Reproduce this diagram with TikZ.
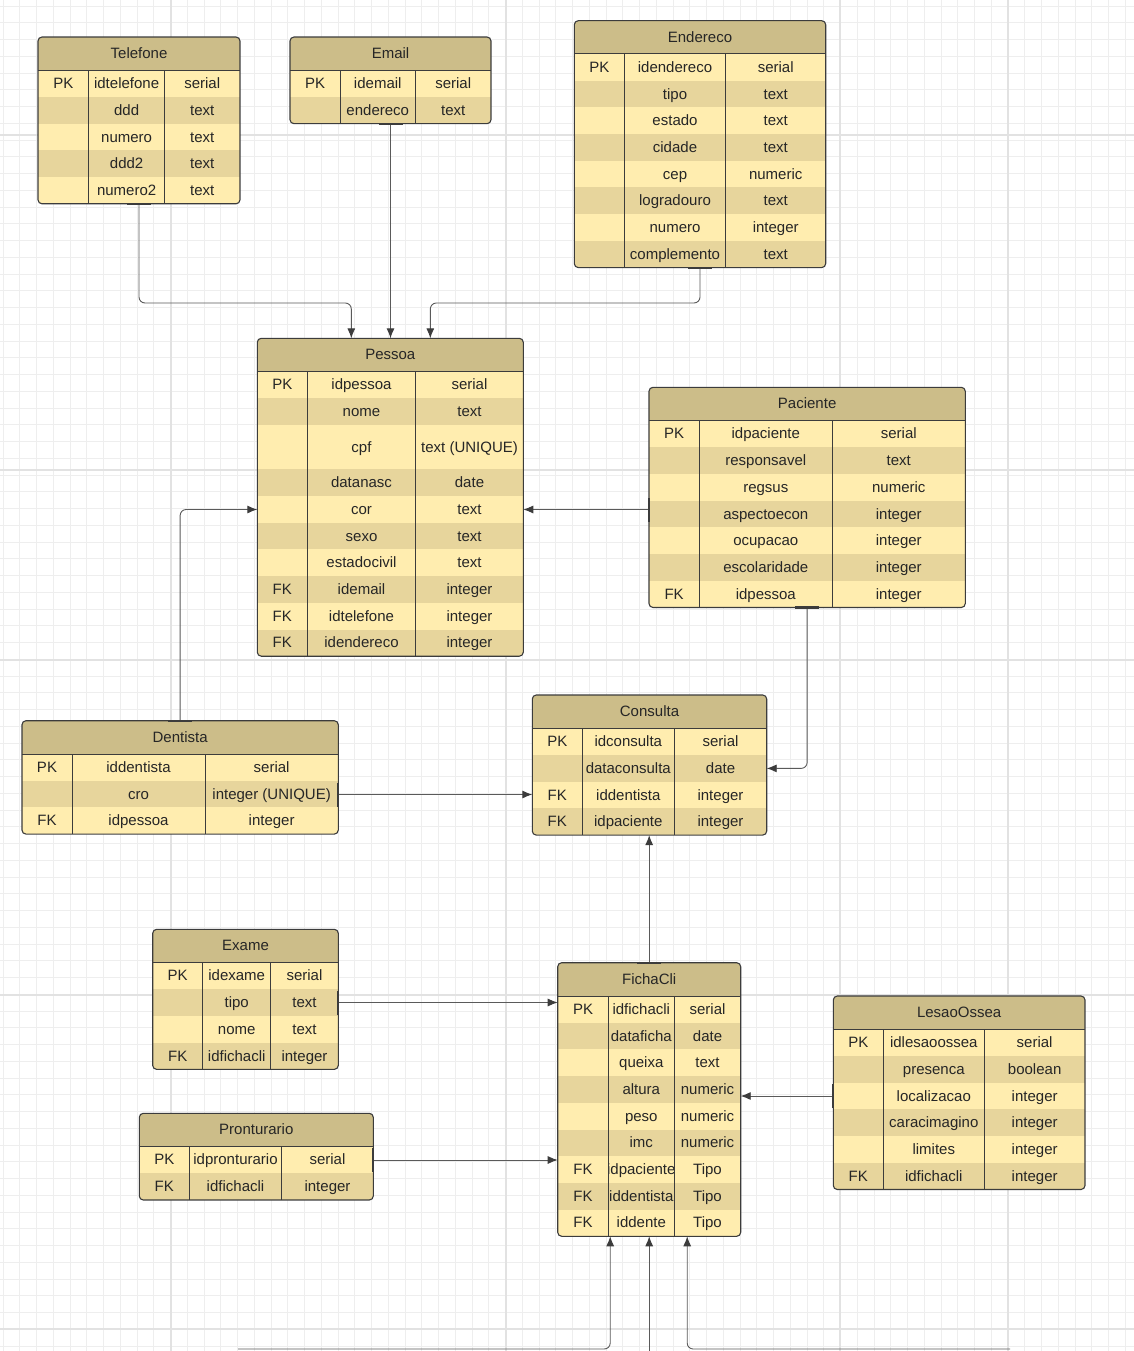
\documentclass[tikz,border=0pt]{standalone}
\usepackage{fontspec}
\setmainfont{Liberation Sans}
\usetikzlibrary{arrows.meta}
\definecolor{titlefill}{HTML}{CCBD89}
\definecolor{lightrow}{HTML}{FFEDAF}
\definecolor{darkrow}{HTML}{E7D59C}
\definecolor{edgecol}{HTML}{3C3C3C}
\definecolor{txtcol}{HTML}{262626}
\definecolor{wirecol}{HTML}{5A5A5A}
\definecolor{gridminor}{HTML}{EEEEEE}
\definecolor{gridmajor}{HTML}{E2E2E2}
\tikzset{
  cell/.style={font=\fontsize{15}{18}\selectfont, text=txtcol, inner sep=0pt, anchor=base},
  tabedge/.style={draw=edgecol, line width=1.1pt, rounded corners=4pt, fill=none},
  divline/.style={draw=edgecol, line width=1pt},
  wire/.style={draw=wirecol, line width=0.9pt, rounded corners=6pt, -{Latex[length=10pt,width=8pt,color=edgecol]}},
  tickmark/.style={draw=edgecol, line width=2.2pt},
  gminor/.style={draw=gridminor, line width=0.8pt},
  gmajor/.style={draw=gridmajor, line width=1.3pt},
}
% #1 name, #2 x0, #3 y0, #4 x1, #5 col1, #6 col2, #7 title, #8 rows key/name/type/height
\newcommand\erdtab[8]{%
  \xdef\toty{\fpeval{#3+33.3}}%
  \foreach \fk/\fn/\ft/\fh in {#8}{\xdef\toty{\fpeval{\toty+\fh}}}%
  \begin{scope}
    \clip[rounded corners=4pt] (#2,#3) rectangle (#4,\toty);
    \fill[titlefill] (#2,#3) rectangle (#4,{#3+33.3});
    \xdef\cury{\fpeval{#3+33.3}}%
    \foreach \fk/\fn/\ft/\fh [count=\i] in {#8}{%
      \xdef\nexty{\fpeval{\cury+\fh}}%
      \ifodd\i\relax
        \fill[lightrow] (#2,\cury) rectangle (#4,\nexty);
      \else
        \fill[darkrow] (#2,\cury) rectangle (#4,\nexty);
      \fi
      \xdef\cury{\nexty}%
    }
  \end{scope}
  \xdef\cury{\fpeval{#3+33.3}}%
  \foreach \fk/\fn/\ft/\fh [count=\i] in {#8}{%
    \xdef\nexty{\fpeval{\cury+\fh}}%
    \ifx\fk\empty\else
      \node[cell] (#1-k\i) at ({(#2+#5)/2},{(\cury+\nexty)/2+5}) {\fk};
    \fi
    \node[cell] (#1-n\i) at ({(#5+#6)/2},{(\cury+\nexty)/2+5}) {\fn};
    \node[cell] (#1-t\i) at ({(#6+#4)/2},{(\cury+\nexty)/2+5}) {\ft};
    \xdef\cury{\nexty}%
  }
  \draw[divline] (#2,{#3+33.3}) -- (#4,{#3+33.3});
  \draw[divline] (#5,{#3+33.3}) -- (#5,\toty);
  \draw[divline] (#6,{#3+33.3}) -- (#6,\toty);
  \node[tabedge, anchor=north west, minimum width={(#4-#2)*1pt}, minimum height={(\toty-#3)*1pt}, inner sep=0pt, outer sep=0pt] (#1) at (#2,#3) {};
  \node[cell] (#1-title) at ({(#2+#4)/2},{#3+16.65+5}) {#7};
}
\begin{document}
\begin{tikzpicture}[x=1pt,y=-1pt]
\useasboundingbox (0,0) rectangle (1134,1351);
\fill[white] (0,0) rectangle (1134,1351);
% grid
\foreach \i in {0,...,67} \draw[gminor] ({3.05+\i*16.75},0) -- ({3.05+\i*16.75},1351);
\foreach \j in {0,...,80} \draw[gminor] (0,{6.05+\j*16.75}) -- (1134,{6.05+\j*16.75});
\foreach \yy in {135,470,660,995,1329} \draw[gmajor] (0,\yy) -- (1134,\yy);
\foreach \xx in {171,506,840,1008} \draw[gmajor] (\xx,0) -- (\xx,1351);

% tables
\erdtab{tel}{38}{37}{240}{88.7}{164.5}{Telefone}{PK/idtelefone/serial/26.7, /ddd/text/26.7, /numero/text/26.7, /ddd2/text/26.7, /numero2/text/26.7}
\erdtab{eml}{290}{37}{491}{340}{415.5}{Email}{PK/idemail/serial/26.7, /endereco/text/26.7}
\erdtab{end}{574.3}{20.7}{825.7}{624.3}{725.7}{Endereco}{PK/idendereco/serial/26.7, /tipo/text/26.7, /estado/text/26.7, /cidade/text/26.7, /cep/numeric/26.7, /logradouro/text/26.7, /numero/integer/26.7, /complemento/text/26.7}
\erdtab{pes}{257.3}{338.3}{523.3}{307.3}{415.7}{Pessoa}{PK/idpessoa/serial/26.7, /nome/text/26.7, /cpf/text (UNIQUE)/44.3, /datanasc/date/26.7, /cor/text/26.7, /sexo/text/26.7, /estadocivil/text/26.7, FK/idemail/integer/26.7, FK/idtelefone/integer/26.7, FK/idendereco/integer/26.7}
\erdtab{pac}{649}{387.3}{965.3}{699.3}{832.3}{Paciente}{PK/idpaciente/serial/26.7, /responsavel/text/26.7, /regsus/numeric/26.7, /aspectoecon/integer/26.7, /ocupacao/integer/26.7, /escolaridade/integer/26.7, FK/idpessoa/integer/26.7}
\erdtab{den}{22}{720.7}{338.3}{72}{205}{Dentista}{PK/iddentista/serial/26.7, /cro/integer (UNIQUE)/26.7, FK/idpessoa/integer/26.7}
\erdtab{con}{532.3}{695}{766.7}{582.3}{674.3}{Consulta}{PK/idconsulta/serial/26.7, /dataconsulta/date/26.7, FK/iddentista/integer/26.7, FK/idpaciente/integer/26.7}
\erdtab{exa}{152.7}{929.3}{338.3}{202.7}{270.7}{Exame}{PK/idexame/serial/26.7, /tipo/text/26.7, /nome/text/26.7, FK/idfichacli/integer/26.7}
\erdtab{pro}{139.3}{1113.3}{373.3}{189.3}{281.7}{Pronturario}{PK/idpronturario/serial/26.7, FK/idfichacli/integer/26.7}
\erdtab{fic}{557.7}{962.7}{740.7}{608.3}{674.3}{FichaCli}{PK/idfichacli/serial/26.7, /dataficha/date/26.7, /queixa/text/26.7, /altura/numeric/26.7, /peso/numeric/26.7, /imc/numeric/26.7, FK/idpaciente/Tipo/26.7, FK/iddentista/Tipo/26.7, FK/iddente/Tipo/26.7}
\erdtab{les}{833.3}{996}{1085}{883.3}{984.3}{LesaoOssea}{PK/idlesaoossea/serial/26.7, /presenca/boolean/26.7, /localizacao/integer/26.7, /caracimagino/integer/26.7, /limites/integer/26.7, FK/idfichacli/integer/26.7}

% junction coordinates
\coordinate (jA) at (0,303);
\coordinate (jB) at (0,509.5);
\coordinate (jC) at (0,768.4);
\coordinate (jD) at (0,794.5);
\coordinate (jE) at (0,1002.5);
\coordinate (jF) at (0,1160);
\coordinate (jG) at (0,1096);
\coordinate (bl) at (238,1349);
\coordinate (br) at (1010,1349);
\coordinate (bm) at (649,1351);

% connectors
\draw[wire] (tel.south) -- (tel.south |- jA) -- ([xshift=-39pt]pes.north |- jA) -- ([xshift=-39pt]pes.north);
\draw[wire] (eml.south) -- (eml.south |- pes.north);
\draw[wire] (end.south) -- (end.south |- jA) -- ([xshift=40pt]pes.north |- jA) -- ([xshift=40pt]pes.north);
\draw[wire] (pac.west |- jB) -- (pes.east |- jB);
\draw[wire] (den.north) -- (den.north |- jB) -- (pes.west |- jB);
\draw[wire] (pac.south) -- (pac.south |- jC) -- (con.east |- jC);
\draw[wire] (den.east |- jD) -- (con.west |- jD);
\draw[wire] (fic.north) -- (fic.north |- con.south);
\draw[wire] (exa.east |- jE) -- (fic.west |- jE);
\draw[wire] (pro.east |- jF) -- (fic.west |- jF);
\draw[wire] (les.west |- jG) -- (fic.east |- jG);
\draw[wire] (bl) -- ([xshift=-39pt]fic.south |- bl) -- ([xshift=-39pt]fic.south);
\draw[wire] (fic.south |- bm) -- (fic.south);
\draw[wire] (br) -- ([xshift=38pt]fic.south |- br) -- ([xshift=38pt]fic.south);

% source tick marks
\draw[tickmark] ([xshift=-12pt]tel.south) -- ([xshift=12pt]tel.south);
\draw[tickmark] ([xshift=-12pt]eml.south) -- ([xshift=12pt]eml.south);
\draw[tickmark] ([xshift=-12pt]end.south) -- ([xshift=12pt]end.south);
\draw[tickmark] ([xshift=-12pt]pac.south) -- ([xshift=12pt]pac.south);
\draw[tickmark] ([xshift=-12pt]den.north) -- ([xshift=12pt]den.north);
\draw[tickmark] ([xshift=-12pt]fic.north) -- ([xshift=12pt]fic.north);
\draw[tickmark] ([yshift=-12pt]pac.west |- jB) -- ([yshift=12pt]pac.west |- jB);
\draw[tickmark] ([yshift=-12pt]den.east |- jD) -- ([yshift=12pt]den.east |- jD);
\draw[tickmark] ([yshift=-12pt]exa.east |- jE) -- ([yshift=12pt]exa.east |- jE);
\draw[tickmark] ([yshift=-12pt]pro.east |- jF) -- ([yshift=12pt]pro.east |- jF);
\draw[tickmark] ([yshift=-12pt]les.west |- jG) -- ([yshift=12pt]les.west |- jG);
\end{tikzpicture}
\end{document}
